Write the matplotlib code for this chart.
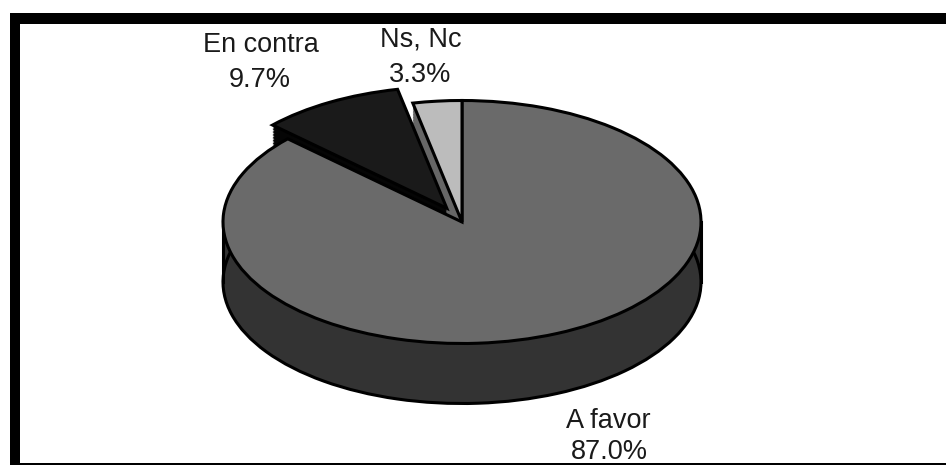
# -*- coding: utf-8 -*-
import numpy as np
import matplotlib
matplotlib.use("Agg")
import matplotlib.pyplot as plt
from matplotlib.patches import Rectangle

plt.rcParams['font.family'] = ['Liberation Sans', 'DejaVu Sans']

# datos
categorias = ['A favor', 'En contra', 'Ns, Nc']
valores = [87.0, 9.7, 3.3]
separacion = [0, 0.13, 0]

color_arriba = ['#6a6a6a', '#1a1a1a', '#bcbcbc']
color_lado = ['#333333', '#050505', '#666666']

W, H = 946, 465
cx, cy, rx, ry = 462, 222, 239, 121.5
prof = 60 / ry   # grosor del cilindro


def px(x, y):
    return x / W, 1 - y / H


fig = plt.figure(figsize=(W / 100, H / 100), dpi=100)
ax = fig.add_axes([0, 0, 1, 1])


def tarta(centro, colores, borde, lw):
    trozos = ax.pie(valores, explode=separacion, colors=colores, startangle=90,
                    counterclock=False, center=(0, centro),
                    wedgeprops={'edgecolor': borde, 'linewidth': lw})[0]
    return trozos


# lado: varias capas de la tarta
for d in np.linspace(prof, 0, 40):
    trozos = tarta(-d, color_lado, 'none', 0)
    trozos[1].set_zorder(2)   # el lado del trozo separado queda encima
trozos = tarta(-prof, ['none', 'none', 'none'], 'black', 2.2)
trozos[2].set_visible(False)
ax.plot([-1, -1], [0, -prof], color='black', lw=2.2, zorder=3)
ax.plot([1, 1], [0, -prof], color='black', lw=2.2, zorder=3)

# cara de arriba
ax.pie(valores, explode=separacion, colors=color_arriba, startangle=90,
       counterclock=False, wedgeprops={'edgecolor': 'black', 'linewidth': 2.2, 'zorder': 4})

ax.set_aspect('auto')
ax.set_xlim((0 - cx) / rx, (W - cx) / rx)
ax.set_ylim((cy - H) / ry, cy / ry)

# textos
pos_nombre = [(608, 421), (261, 45), (421, 40)]
pos_valor = [(609, 452), (260, 80), (420, 75)]
for nombre, v, p1, p2 in zip(categorias, valores, pos_nombre, pos_valor):
    fig.text(*px(*p1), nombre, ha='center', va='center', fontsize=19.5, color='#1a1a1a')
    fig.text(*px(*p2), '%.1f%%' % v, ha='center', va='center', fontsize=19.5, color='#1a1a1a')

# marco
for x0, y0, x1, y1 in [(10, 13, W, 24), (10, 13, 20, H), (10, 463, W, H)]:
    fig.add_artist(Rectangle((x0 / W, 1 - y1 / H), (x1 - x0) / W, (y1 - y0) / H,
                             transform=fig.transFigure, facecolor='black', edgecolor='none'))

fig.savefig('out.png', dpi=100)
